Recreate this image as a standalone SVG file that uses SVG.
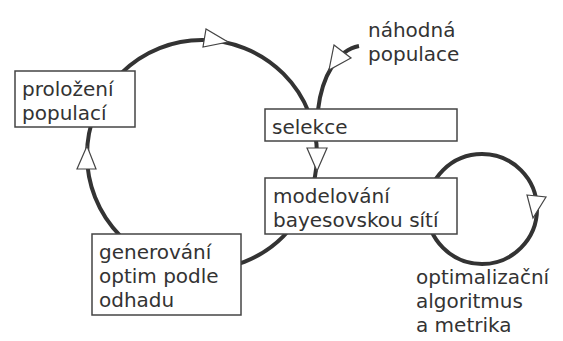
<svg xmlns="http://www.w3.org/2000/svg" width="563" height="341" viewBox="0 0 563 341">
<style>
.edge{fill:none;stroke:#333;stroke-width:4}
.arr{fill:#fff;stroke:#444;stroke-width:1.2;stroke-linejoin:miter}
.box{fill:#fff;stroke:#444;stroke-width:1.5}
text{font-family:"DejaVu Sans",Verdana,sans-serif;font-size:20px;fill:#333}
</style>
<rect width="563" height="341" fill="#fff"/>
<g id="connectors">
<circle class="edge" cx="202" cy="155" r="115"/>
<circle class="edge" cx="482" cy="209" r="55"/>
<path class="edge" d="M359,46 C338,50 322,75 318,110"/>
</g>
<g id="proložení">
<rect class="box" x="15" y="71" width="120" height="56"/>
<text x="22" y="96">proložení</text>
<text x="22" y="120">populací</text>
</g>
<g id="selekce">
<rect class="box" x="265" y="109" width="192" height="32"/>
<text x="272" y="134">selekce</text>
</g>
<g id="modelovani">
<rect class="box" x="265" y="178" width="192" height="56"/>
<text x="273" y="203">modelování</text>
<text x="273" y="227">bayesovskou sítí</text>
</g>
<g id="generovani">
<rect class="box" x="92" y="234" width="149" height="81"/>
<text x="99" y="259">generování</text>
<text x="99" y="283">optim podle</text>
<text x="99" y="307">odhadu</text>
</g>
<g id="nahodna">
<text x="368" y="37">náhodná</text>
<text x="368" y="61">populace</text>
</g>
<g id="optimalizacni">
<text x="416" y="284">optimalizační</text>
<text x="416" y="308">algoritmus</text>
<text x="416" y="332">a metrika</text>
</g>
<g id="arrows">
<polygon class="arr" points="206,29 203,47 228,42"/>
<polygon class="arr" points="77,169 96,169 87,146"/>
<polygon class="arr" points="307,148 327,148 317,171"/>
<polygon class="arr" points="334,45 351,58 329,70"/>
<polygon class="arr" points="527,195 546,197 533,218"/>
</g>
</svg>
